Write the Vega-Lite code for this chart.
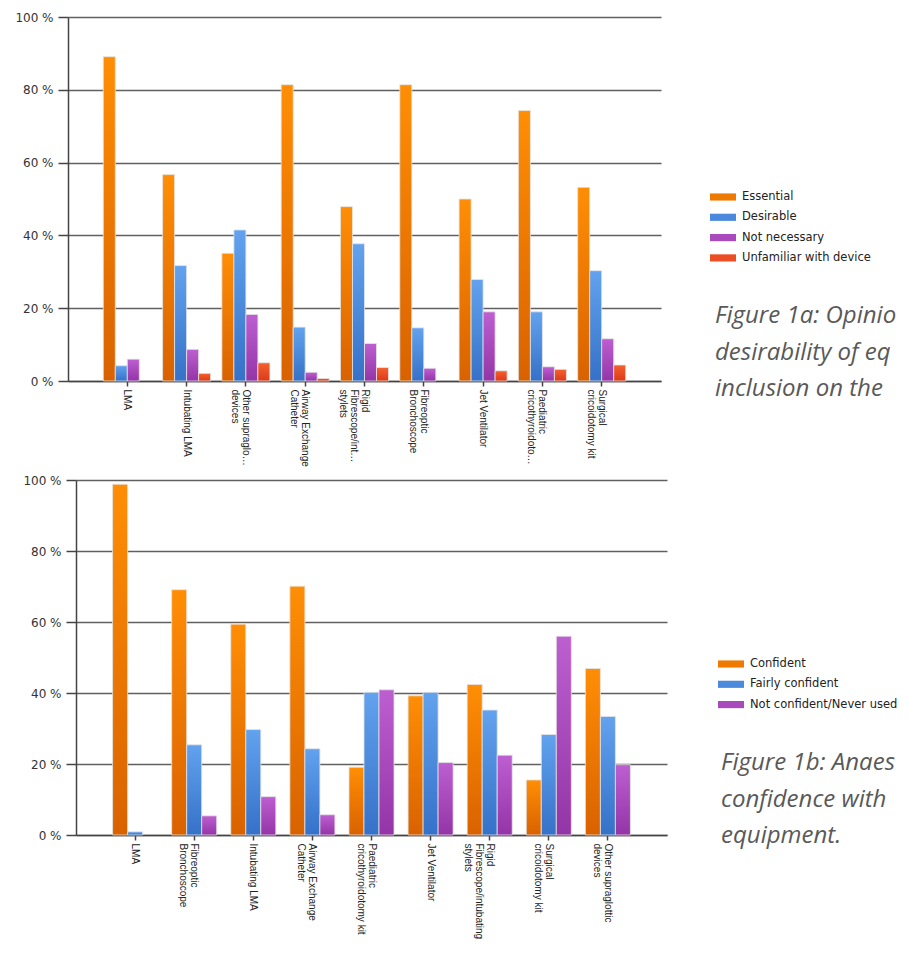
{
  "$schema": "https://vega.github.io/schema/vega-lite/v6.json",
  "padding": {"left": 14, "top": 11, "right": 0, "bottom": 0},
  "bounds": "flush",
  "spacing": 99,
  "resolve": {
    "scale": {"x": "independent", "xOffset": "independent", "y": "independent", "color": "independent"},
    "legend": {"color": "independent"}
  },
  "config": {
    "font": "Liberation Sans",
    "view": {"stroke": null},
    "axis": {"domainColor": "#444444", "domainWidth": 1.5, "tickColor": "#444444", "tickWidth": 1.5},
    "axisX": {"labelAngle": 90, "labelFontSize": 10, "labelColor": "#222222", "tickSize": 5, "labelPadding": 3, "grid": false, "labelLineHeight": 11},
    "axisY": {"grid": true, "gridColor": "#606060", "gridWidth": 1.5, "tickSize": 10, "labelFont": "DejaVu Sans", "labelFontSize": 12, "labelColor": "#333333", "labelPadding": 5, "labelOverlap": false},
    "legend": {"orient": "none", "labelFont": "DejaVu Sans", "labelFontSize": 11.5, "labelColor": "#222222", "symbolType": "M-2,-0.55H2V0.55H-2Z", "symbolSize": 169, "symbolStrokeWidth": 0, "symbolOpacity": 1, "labelOffset": 12.5, "rowPadding": 8.3, "padding": 0}
  },
  "datasets": {
    "fig1a": [
      {"device": "LMA", "series": "Essential", "percent": 89.1},
      {"device": "LMA", "series": "Desirable", "percent": 4.2},
      {"device": "LMA", "series": "Not necessary", "percent": 6.0},
      {"device": "Intubating LMA", "series": "Essential", "percent": 56.7},
      {"device": "Intubating LMA", "series": "Desirable", "percent": 31.7},
      {"device": "Intubating LMA", "series": "Not necessary", "percent": 8.7},
      {"device": "Intubating LMA", "series": "Unfamiliar with device", "percent": 2.1},
      {"device": "Other supraglottic devices", "series": "Essential", "percent": 35.1},
      {"device": "Other supraglottic devices", "series": "Desirable", "percent": 41.5},
      {"device": "Other supraglottic devices", "series": "Not necessary", "percent": 18.3},
      {"device": "Other supraglottic devices", "series": "Unfamiliar with device", "percent": 5.0},
      {"device": "Airway Exchange Catheter", "series": "Essential", "percent": 81.4},
      {"device": "Airway Exchange Catheter", "series": "Desirable", "percent": 14.8},
      {"device": "Airway Exchange Catheter", "series": "Not necessary", "percent": 2.4},
      {"device": "Airway Exchange Catheter", "series": "Unfamiliar with device", "percent": 0.7},
      {"device": "Rigid Fibrescope/intubating stylets", "series": "Essential", "percent": 47.9},
      {"device": "Rigid Fibrescope/intubating stylets", "series": "Desirable", "percent": 37.7},
      {"device": "Rigid Fibrescope/intubating stylets", "series": "Not necessary", "percent": 10.3},
      {"device": "Rigid Fibrescope/intubating stylets", "series": "Unfamiliar with device", "percent": 3.7},
      {"device": "Fibreoptic Bronchoscope", "series": "Essential", "percent": 81.4},
      {"device": "Fibreoptic Bronchoscope", "series": "Desirable", "percent": 14.6},
      {"device": "Fibreoptic Bronchoscope", "series": "Not necessary", "percent": 3.5},
      {"device": "Jet Ventilator", "series": "Essential", "percent": 50.0},
      {"device": "Jet Ventilator", "series": "Desirable", "percent": 27.9},
      {"device": "Jet Ventilator", "series": "Not necessary", "percent": 19.0},
      {"device": "Jet Ventilator", "series": "Unfamiliar with device", "percent": 2.8},
      {"device": "Paediatric cricothyroidotomy kit", "series": "Essential", "percent": 74.3},
      {"device": "Paediatric cricothyroidotomy kit", "series": "Desirable", "percent": 19.0},
      {"device": "Paediatric cricothyroidotomy kit", "series": "Not necessary", "percent": 3.9},
      {"device": "Paediatric cricothyroidotomy kit", "series": "Unfamiliar with device", "percent": 3.2},
      {"device": "Surgical cricoidotomy kit", "series": "Essential", "percent": 53.2},
      {"device": "Surgical cricoidotomy kit", "series": "Desirable", "percent": 30.3},
      {"device": "Surgical cricoidotomy kit", "series": "Not necessary", "percent": 11.6},
      {"device": "Surgical cricoidotomy kit", "series": "Unfamiliar with device", "percent": 4.4}
    ],
    "fig1b": [
      {"device": "LMA", "series": "Confident", "percent": 98.8},
      {"device": "LMA", "series": "Fairly confident", "percent": 0.9},
      {"device": "Fibreoptic Bronchoscope", "series": "Confident", "percent": 69.1},
      {"device": "Fibreoptic Bronchoscope", "series": "Fairly confident", "percent": 25.4},
      {"device": "Fibreoptic Bronchoscope", "series": "Not confident/Never used", "percent": 5.4},
      {"device": "Intubating LMA", "series": "Confident", "percent": 59.4},
      {"device": "Intubating LMA", "series": "Fairly confident", "percent": 29.7},
      {"device": "Intubating LMA", "series": "Not confident/Never used", "percent": 10.8},
      {"device": "Airway Exchange Catheter", "series": "Confident", "percent": 70.1},
      {"device": "Airway Exchange Catheter", "series": "Fairly confident", "percent": 24.3},
      {"device": "Airway Exchange Catheter", "series": "Not confident/Never used", "percent": 5.7},
      {"device": "Paediatric cricothyroidotomy kit", "series": "Confident", "percent": 19.1},
      {"device": "Paediatric cricothyroidotomy kit", "series": "Fairly confident", "percent": 40.2},
      {"device": "Paediatric cricothyroidotomy kit", "series": "Not confident/Never used", "percent": 40.9},
      {"device": "Jet Ventilator", "series": "Confident", "percent": 39.2},
      {"device": "Jet Ventilator", "series": "Fairly confident", "percent": 40.2},
      {"device": "Jet Ventilator", "series": "Not confident/Never used", "percent": 20.4},
      {"device": "Rigid Fibrescope/intubating stylets", "series": "Confident", "percent": 42.4},
      {"device": "Rigid Fibrescope/intubating stylets", "series": "Fairly confident", "percent": 35.2},
      {"device": "Rigid Fibrescope/intubating stylets", "series": "Not confident/Never used", "percent": 22.5},
      {"device": "Surgical cricoidotomy kit", "series": "Confident", "percent": 15.5},
      {"device": "Surgical cricoidotomy kit", "series": "Fairly confident", "percent": 28.3},
      {"device": "Surgical cricoidotomy kit", "series": "Not confident/Never used", "percent": 56.0},
      {"device": "Other supraglottic devices", "series": "Confident", "percent": 46.9},
      {"device": "Other supraglottic devices", "series": "Fairly confident", "percent": 33.4},
      {"device": "Other supraglottic devices", "series": "Not confident/Never used", "percent": 19.8}
    ]
  },
  "vconcat": [
    {
      "width": 593,
      "height": 364,
      "data": {"name": "fig1a"},
      "layer": [
        {
          "encoding": {
            "x": {
              "field": "device", "type": "nominal", "title": null,
              "scale": {"domain": ["LMA", "Intubating LMA", "Other supraglottic devices", "Airway Exchange Catheter", "Rigid Fibrescope/intubating stylets", "Fibreoptic Bronchoscope", "Jet Ventilator", "Paediatric cricothyroidotomy kit", "Surgical cricoidotomy kit"], "paddingInner": 0.19, "paddingOuter": 0.595},
              "axis": {"labelLimit": 78, "labelExpr": "datum.value=='Other supraglottic devices'?['Other supraglottic','devices']:datum.value=='Airway Exchange Catheter'?['Airway Exchange','Catheter']:datum.value=='Rigid Fibrescope/intubating stylets'?['Rigid','Fibrescope/intubating','stylets']:datum.value=='Fibreoptic Bronchoscope'?['Fibreoptic','Bronchoscope']:datum.value=='Paediatric cricothyroidotomy kit'?['Paediatric','cricothyroidotomy kit']:datum.value=='Surgical cricoidotomy kit'?['Surgical','cricoidotomy kit']:datum.label"}
            },
            "xOffset": {"field": "series", "type": "nominal", "scale": {"domain": ["Essential", "Desirable", "Not necessary", "Unfamiliar with device"]}},
            "y": {"field": "percent", "type": "quantitative", "title": null, "scale": {"domain": [0, 100], "nice": false}, "axis": {"tickCount": 5, "labelExpr": "datum.value + ' %'"}}
          },
          "layer": [
            {
              "mark": {"type": "bar", "opacity": 0},
              "encoding": {
                "color": {"field": "series", "type": "nominal", "title": null,
                  "scale": {"domain": ["Essential", "Desirable", "Not necessary", "Unfamiliar with device"], "range": ["#EE7A02", "#4A89DB", "#A84ABB", "#EB4D24"]},
                  "legend": {"legendX": 648.5, "legendY": 173.5}}
              }
            },
            {
              "transform": [{"filter": "datum.series === 'Essential'"}],
              "mark": {"type": "bar", "stroke": "#e4e4e4", "strokeWidth": 0.8, "fill": {"gradient": "linear", "x1": 0, "y1": 0, "x2": 0, "y2": 1, "stops": [{"offset": 0, "color": "#FF8E05"}, {"offset": 1, "color": "#D96200"}]}}
            },
            {
              "transform": [{"filter": "datum.series === 'Desirable'"}],
              "mark": {"type": "bar", "stroke": "#e4e4e4", "strokeWidth": 0.8, "fill": {"gradient": "linear", "x1": 0, "y1": 0, "x2": 0, "y2": 1, "stops": [{"offset": 0, "color": "#62A2EE"}, {"offset": 1, "color": "#3571C8"}]}}
            },
            {
              "transform": [{"filter": "datum.series === 'Not necessary'"}],
              "mark": {"type": "bar", "stroke": "#e4e4e4", "strokeWidth": 0.8, "fill": {"gradient": "linear", "x1": 0, "y1": 0, "x2": 0, "y2": 1, "stops": [{"offset": 0, "color": "#BD5FD0"}, {"offset": 1, "color": "#9335A6"}]}}
            },
            {
              "transform": [{"filter": "datum.series === 'Unfamiliar with device'"}],
              "mark": {"type": "bar", "stroke": "#e4e4e4", "strokeWidth": 0.8, "fill": {"gradient": "linear", "x1": 0, "y1": 0, "x2": 0, "y2": 1, "stops": [{"offset": 0, "color": "#F5602F"}, {"offset": 1, "color": "#DC3A18"}]}}
            }
          ]
        },
        {
          "data": {"values": [{}]},
          "mark": {"type": "text", "text": ["Figure 1a: Opinion on the", "desirability of equipment for", "inclusion on the difficult airway trolley"], "font": "Open Sans", "fontStyle": "italic", "fontSize": 24, "color": "#595959", "align": "left", "baseline": "middle", "lineHeight": 36.5, "limit": 194, "ellipsis": " "},
          "encoding": {"x": {"value": 647}, "y": {"value": 299}}
        }
      ]
    },
    {
      "width": 599,
      "height": 355,
      "data": {"name": "fig1b"},
      "layer": [
        {
          "encoding": {
            "x": {
              "field": "device", "type": "nominal", "title": null,
              "scale": {"domain": ["LMA", "Fibreoptic Bronchoscope", "Intubating LMA", "Airway Exchange Catheter", "Paediatric cricothyroidotomy kit", "Jet Ventilator", "Rigid Fibrescope/intubating stylets", "Surgical cricoidotomy kit", "Other supraglottic devices"], "range": [8, 599], "paddingInner": 0.238, "paddingOuter": 0.619},
              "axis": {"labelLimit": 200, "labelExpr": "datum.value=='Other supraglottic devices'?['Other supraglottic','devices']:datum.value=='Airway Exchange Catheter'?['Airway Exchange','Catheter']:datum.value=='Rigid Fibrescope/intubating stylets'?['Rigid','Fibrescope/intubating','stylets']:datum.value=='Fibreoptic Bronchoscope'?['Fibreoptic','Bronchoscope']:datum.value=='Paediatric cricothyroidotomy kit'?['Paediatric','cricothyroidotomy kit']:datum.value=='Surgical cricoidotomy kit'?['Surgical','cricoidotomy kit']:datum.label"}
            },
            "xOffset": {"field": "series", "type": "nominal", "scale": {"domain": ["Confident", "Fairly confident", "Not confident/Never used"]}},
            "y": {"field": "percent", "type": "quantitative", "title": null, "scale": {"domain": [0, 100], "nice": false}, "axis": {"tickCount": 5, "offset": -8, "labelExpr": "datum.value + ' %'"}}
          },
          "layer": [
            {
              "mark": {"type": "bar", "opacity": 0},
              "encoding": {
                "color": {"field": "series", "type": "nominal", "title": null,
                  "scale": {"domain": ["Confident", "Fairly confident", "Not confident/Never used"], "range": ["#EE7A02", "#4A89DB", "#A84ABB"]},
                  "legend": {"legendX": 656.5, "legendY": 177.5}}
              }
            },
            {
              "transform": [{"filter": "datum.series === 'Confident'"}],
              "mark": {"type": "bar", "stroke": "#e4e4e4", "strokeWidth": 0.8, "fill": {"gradient": "linear", "x1": 0, "y1": 0, "x2": 0, "y2": 1, "stops": [{"offset": 0, "color": "#FF8E05"}, {"offset": 1, "color": "#D96200"}]}}
            },
            {
              "transform": [{"filter": "datum.series === 'Fairly confident'"}],
              "mark": {"type": "bar", "stroke": "#e4e4e4", "strokeWidth": 0.8, "fill": {"gradient": "linear", "x1": 0, "y1": 0, "x2": 0, "y2": 1, "stops": [{"offset": 0, "color": "#62A2EE"}, {"offset": 1, "color": "#3571C8"}]}}
            },
            {
              "transform": [{"filter": "datum.series === 'Not confident/Never used'"}],
              "mark": {"type": "bar", "stroke": "#e4e4e4", "strokeWidth": 0.8, "fill": {"gradient": "linear", "x1": 0, "y1": 0, "x2": 0, "y2": 1, "stops": [{"offset": 0, "color": "#BD5FD0"}, {"offset": 1, "color": "#9335A6"}]}}
            }
          ]
        },
        {
          "data": {"values": [{}]},
          "mark": {"type": "text", "text": ["Figure 1b: Anaesthetists'", "confidence with airway", "equipment."], "font": "Open Sans", "fontStyle": "italic", "fontSize": 24, "color": "#595959", "align": "left", "baseline": "middle", "lineHeight": 36.5, "limit": 188, "ellipsis": " "},
          "encoding": {"x": {"value": 653}, "y": {"value": 283}}
        }
      ]
    }
  ]
}
